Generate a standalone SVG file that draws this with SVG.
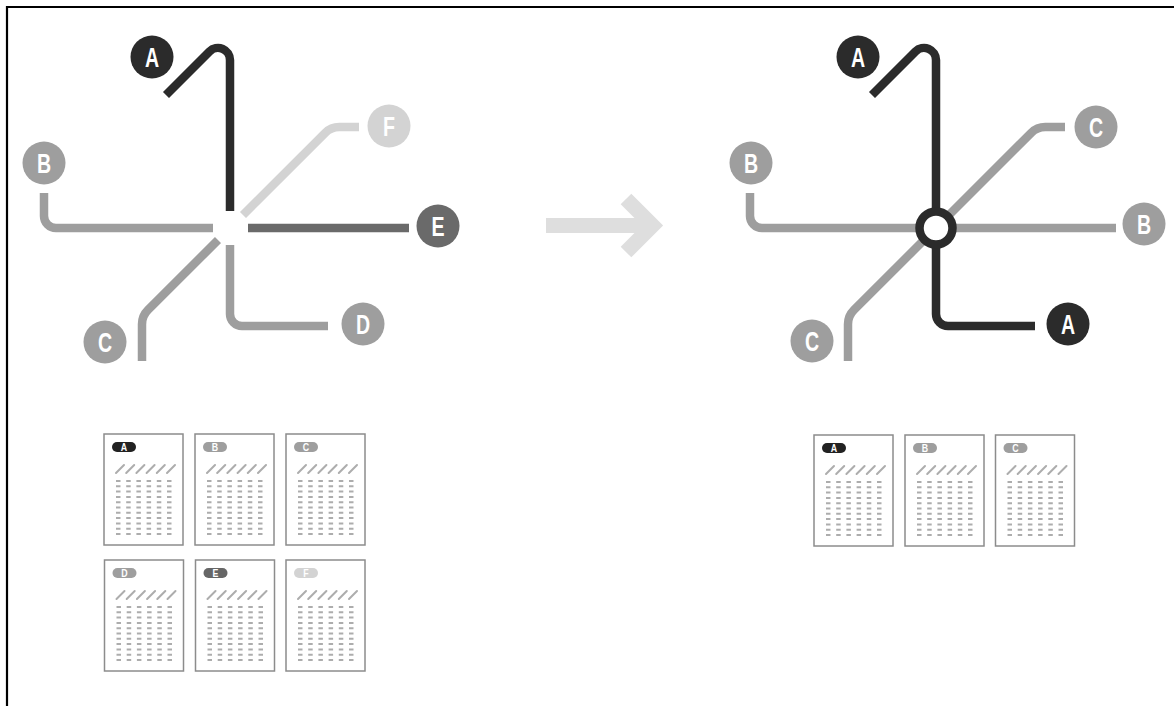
<svg xmlns="http://www.w3.org/2000/svg" xmlns:xlink="http://www.w3.org/1999/xlink" width="1174" height="706" viewBox="0 0 1174 706">
<style>
.ln{fill:none;stroke-width:8.5;stroke-linecap:butt;stroke-linejoin:round}
.dk{stroke:#2b2b2b}.md{stroke:#9e9e9e}.e{stroke:#6a6a6a}.lt{stroke:#d3d3d3}
.lbl{font-family:"Liberation Sans","Noto Sans",sans-serif;font-weight:bold;font-size:28px;fill:#fff;text-anchor:middle}
.plbl{font-family:"Liberation Sans","Noto Sans",sans-serif;font-weight:bold;font-size:11px;fill:#fff;text-anchor:middle}
.card{fill:#fff;stroke:#8c8c8c;stroke-width:1.5}
.sl{fill:none;stroke:#adadad;stroke-width:2;stroke-linecap:round}
.ds{fill:none;stroke:#adadad;stroke-width:4.5;stroke-dasharray:2 3.3}
</style>
<defs>
<g id="cardbody">
<rect class="card" x="0" y="0" width="79" height="111"/>
<path class="sl" d="M12,39 l8,-8 M22.2,39 l8,-8 M32.4,39 l8,-8 M42.6,39 l8,-8 M52.8,39 l8,-8 M63,39 l8,-8"/>
<path class="ds" d="M14.25,46 V101 M24.45,46 V101 M34.65,46 V101 M44.85,46 V101 M55.05,46 V101 M65.25,46 V101"/>
</g>
</defs>
<rect width="1174" height="706" fill="#fff"/>
<path d="M7,706 V7 H1174" fill="none" stroke="#000" stroke-width="2.2"/>

<g id="connectors">
<!-- left map -->
<path class="ln md" d="M44,193 L44,216 A12,12 0 0 0 56,228 L213,228"/>
<path class="ln md" d="M218,240 L147.9,310.1 A20,20 0 0 0 142,324.3 L142,361"/>
<path class="ln md" d="M230,245 L230,314 A12,12 0 0 0 242,326 L328,326"/>
<path class="ln e" d="M248,228 L409,228"/>
<path class="ln lt" d="M243,215 L325.1,132.9 A20,20 0 0 1 339.3,127 L359,127"/>
<path class="ln dk" d="M166,95 L209.5,51.5 A12,12 0 0 1 230,60 L230,211"/>
<!-- right map -->
<path class="ln md" d="M750,193 L750,216 A12,12 0 0 0 762,228 L1116,228"/>
<path class="ln md" d="M848,361 L848,324.3 A20,20 0 0 1 853.9,310.1 L1031.1,132.9 A20,20 0 0 1 1045.3,127 L1065,127"/>
<path class="ln dk" d="M872,95 L915.5,51.5 A12,12 0 0 1 936,60 L936,314 A12,12 0 0 0 948,326 L1035,326"/>
<!-- transition arrow -->
<g fill="none" stroke="#dedede" stroke-width="15">
<path d="M546,225.5 H648"/>
<path d="M626,199 L652.5,225.5 L626,252" stroke-linejoin="miter"/>
</g>
</g>

<g id="station-interchange">
<circle cx="936" cy="228" r="16.5" fill="#fff" stroke="#2b2b2b" stroke-width="8.5"/>
</g>

<!-- left map terminals -->
<g id="left-A"><circle cx="152" cy="57" r="21.5" fill="#2b2b2b"/><text class="lbl" transform="translate(152,67) scale(0.7,1)">A</text></g>
<g id="left-B"><circle cx="44" cy="163" r="21.5" fill="#9e9e9e"/><text class="lbl" transform="translate(44,173) scale(0.7,1)">B</text></g>
<g id="left-C"><circle cx="105" cy="342" r="21.5" fill="#9e9e9e"/><text class="lbl" transform="translate(105,352) scale(0.7,1)">C</text></g>
<g id="left-D"><circle cx="363" cy="324" r="21.5" fill="#9e9e9e"/><text class="lbl" transform="translate(363,334) scale(0.7,1)">D</text></g>
<g id="left-E"><circle cx="438" cy="226" r="21.5" fill="#6a6a6a"/><text class="lbl" transform="translate(438,236) scale(0.7,1)">E</text></g>
<g id="left-F"><circle cx="389" cy="126" r="21.5" fill="#d3d3d3"/><text class="lbl" transform="translate(389,136) scale(0.7,1)">F</text></g>

<!-- right map terminals -->
<g id="right-A1"><circle cx="858" cy="57" r="21.5" fill="#2b2b2b"/><text class="lbl" transform="translate(858,67) scale(0.7,1)">A</text></g>
<g id="right-A2"><circle cx="1068" cy="324" r="21.5" fill="#2b2b2b"/><text class="lbl" transform="translate(1068,334) scale(0.7,1)">A</text></g>
<g id="right-B1"><circle cx="751" cy="163" r="21.5" fill="#9e9e9e"/><text class="lbl" transform="translate(751,173) scale(0.7,1)">B</text></g>
<g id="right-B2"><circle cx="1144" cy="224" r="21.5" fill="#9e9e9e"/><text class="lbl" transform="translate(1144,234) scale(0.7,1)">B</text></g>
<g id="right-C1"><circle cx="812" cy="341" r="21.5" fill="#9e9e9e"/><text class="lbl" transform="translate(812,351) scale(0.7,1)">C</text></g>
<g id="right-C2"><circle cx="1096" cy="127" r="21.5" fill="#9e9e9e"/><text class="lbl" transform="translate(1096,137) scale(0.7,1)">C</text></g>

<!-- timetables left -->
<g id="card-left-A" transform="translate(104,434)"><use xlink:href="#cardbody"/><rect x="8" y="8" width="24" height="10" rx="5" fill="#222"/><text class="plbl" transform="translate(20,17) scale(0.8,1)">A</text></g>
<g id="card-left-B" transform="translate(195,434)"><use xlink:href="#cardbody"/><rect x="8" y="8" width="24" height="10" rx="5" fill="#9e9e9e"/><text class="plbl" transform="translate(20,17) scale(0.8,1)">B</text></g>
<g id="card-left-C" transform="translate(286,434)"><use xlink:href="#cardbody"/><rect x="8" y="8" width="24" height="10" rx="5" fill="#9e9e9e"/><text class="plbl" transform="translate(20,17) scale(0.8,1)">C</text></g>
<g id="card-left-D" transform="translate(104.5,560)"><use xlink:href="#cardbody"/><rect x="8" y="8" width="24" height="10" rx="5" fill="#9e9e9e"/><text class="plbl" transform="translate(20,17) scale(0.8,1)">D</text></g>
<g id="card-left-E" transform="translate(195.5,560)"><use xlink:href="#cardbody"/><rect x="8" y="8" width="24" height="10" rx="5" fill="#666"/><text class="plbl" transform="translate(20,17) scale(0.8,1)">E</text></g>
<g id="card-left-F" transform="translate(286,560)"><use xlink:href="#cardbody"/><rect x="8" y="8" width="24" height="10" rx="5" fill="#d3d3d3"/><text class="plbl" transform="translate(20,17) scale(0.8,1)">F</text></g>

<!-- timetables right -->
<g id="card-right-A" transform="translate(814,435)"><use xlink:href="#cardbody"/><rect x="8" y="8" width="24" height="10" rx="5" fill="#222"/><text class="plbl" transform="translate(20,17) scale(0.8,1)">A</text></g>
<g id="card-right-B" transform="translate(905,435)"><use xlink:href="#cardbody"/><rect x="8" y="8" width="24" height="10" rx="5" fill="#9e9e9e"/><text class="plbl" transform="translate(20,17) scale(0.8,1)">B</text></g>
<g id="card-right-C" transform="translate(995.5,435)"><use xlink:href="#cardbody"/><rect x="8" y="8" width="24" height="10" rx="5" fill="#9e9e9e"/><text class="plbl" transform="translate(20,17) scale(0.8,1)">C</text></g>
</svg>
